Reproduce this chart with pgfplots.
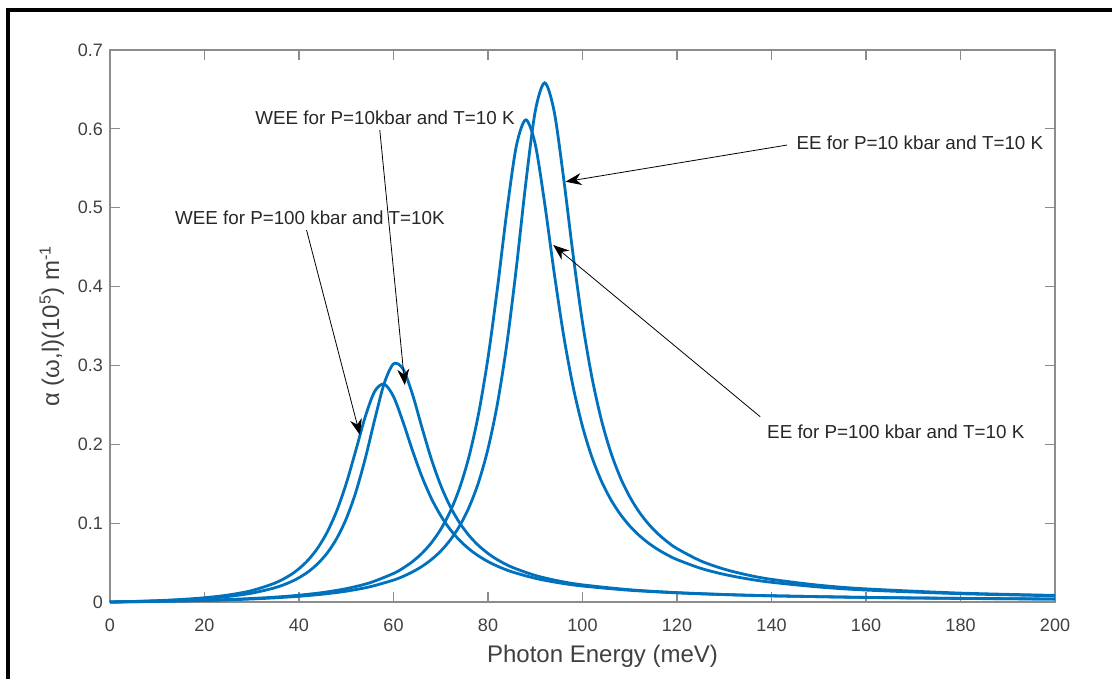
\documentclass[border=0pt]{standalone}
\usepackage{pgfplots}
\pgfplotsset{compat=1.18}
\usepackage{fontspec}
\setmainfont{Liberation Sans}
\usetikzlibrary{arrows.meta}
\definecolor{mblue}{HTML}{0072BD}
\definecolor{axgray}{HTML}{8C8C8C}
\definecolor{tickgray}{HTML}{404040}

% WEE, P=100 kbar
\pgfplotstableread{
x y
0 0
5 0.00070
10 0.00171
15 0.00318
20 0.00539
25 0.00884
30 0.01447
35 0.02421
38 0.03360
40 0.04225
42 0.05363
44 0.06879
46 0.08899
48 0.11579
50 0.15030
52 0.19172
54 0.23448
56 0.26688
58 0.27642
60 0.26053
62 0.22859
64 0.19238
66 0.15921
68 0.13154
70 0.10944
72 0.09195
74 0.07816
76 0.06719
78 0.05840
80 0.05125
82 0.04539
85 0.03840
90 0.03007
95 0.02434
100 0.02025
110 0.01487
120 0.01158
130 0.00939
140 0.00785
160 0.00585
180 0.00462
200 0.00381
}\weeA
% WEE, P=10 kbar
\pgfplotstableread{
x y
0 0
5 0.00059
10 0.00141
15 0.00260
20 0.00435
25 0.00701
30 0.01122
35 0.01825
38 0.02484
40 0.03080
42 0.03855
44 0.04875
46 0.06236
48 0.08072
50 0.10556
52 0.13879
54 0.18140
56 0.23076
58 0.27662
60 0.30200
62 0.29570
64 0.26372
66 0.22172
68 0.18150
70 0.14779
72 0.12108
74 0.10031
76 0.08420
78 0.07159
80 0.06161
82 0.05361
85 0.04433
90 0.03366
95 0.02663
100 0.02174
110 0.01555
120 0.01188
130 0.00951
140 0.00787
160 0.00578
180 0.00452
200 0.00370
}\weeB
% EE, P=100 kbar
\pgfplotstableread{
x y
0 0
10 0.00083
20 0.00217
25 0.00315
30 0.00445
35 0.00620
40 0.00861
45 0.01200
50 0.01693
55 0.02438
60 0.03620
62 0.04287
64 0.05117
66 0.06162
68 0.07496
70 0.09220
72 0.11478
74 0.14475
76 0.18489
78 0.23869
80 0.30959
82 0.39816
84 0.49596
86 0.57837
88 0.61144
90 0.58045
92 0.50524
94 0.41775
96 0.33821
98 0.27330
100 0.22262
102 0.18354
104 0.15335
106 0.12982
108 0.11125
110 0.09641
112 0.08441
114 0.07456
116 0.06641
118 0.05958
120 0.05381
125 0.04275
130 0.03498
135 0.02929
140 0.02500
150 0.01903
160 0.01515
180 0.01052
200 0.00792
}\eeA
% EE, P=10 kbar
\pgfplotstableread{
x y
0 0
10 0.00073
20 0.00190
25 0.00274
30 0.00384
35 0.00529
40 0.00724
45 0.00993
50 0.01373
55 0.01930
60 0.02777
62 0.03242
64 0.03807
66 0.04503
68 0.05369
70 0.06459
72 0.07853
74 0.09656
76 0.12026
78 0.15182
80 0.19429
82 0.25158
84 0.32772
86 0.42388
88 0.53125
90 0.62240
92 0.65834
94 0.62219
96 0.53752
98 0.44080
100 0.35434
102 0.28467
104 0.23080
106 0.18960
108 0.15796
110 0.13339
112 0.11409
114 0.09872
116 0.08629
118 0.07613
120 0.06773
125 0.05215
130 0.04162
135 0.03416
140 0.02869
150 0.02130
160 0.01665
180 0.01128
200 0.00836
}\eeB

\begin{document}
\begin{tikzpicture}
\useasboundingbox (-55pt,-38.5pt) rectangle (501pt,301pt);
\fill[black] (-52pt,-38.5pt) rectangle (-50pt,297pt);
\fill[black] (-52pt,295pt) rectangle (501pt,297pt);
\begin{axis}[
    at={(0,0)}, anchor=south west,
    scale only axis, width=472.5pt, height=276pt,
    xmin=0, xmax=200, ymin=0, ymax=0.7,
    xtick={0,20,...,200},
    ytick={0,0.1,0.2,0.3,0.4,0.5,0.6,0.7},
    scaled y ticks=false,
    yticklabel style={/pgf/number format/fixed, /pgf/number format/precision=1},
    xticklabel style={yshift=-5pt},
    /pgf/number format/assume math mode=true,
    tick align=inside, major tick length=5pt,
    axis line style={axgray, line width=0.6pt},
    tick style={axgray, line width=0.6pt},
    ticklabel style={font=\fontsize{9}{10}\selectfont, text=tickgray},
    label style={font=\fontsize{12}{14}\selectfont, text=tickgray},
    xlabel style={xshift=10pt},
    xlabel={Photon Energy (meV)},
    ylabel={α (ω,l)(10\textsuperscript{5}) m\textsuperscript{-1}},
    clip=false]
  \addplot[mblue, line width=1.4pt, smooth] table {\weeA};
  \addplot[mblue, line width=1.4pt, smooth] table {\weeB};
  \addplot[mblue, line width=1.4pt, smooth] table {\eeA};
  \addplot[mblue, line width=1.4pt, smooth] table {\eeB};

  \begin{scope}[font=\fontsize{9.4}{11}\selectfont, text=black!85]
  \node at (axis cs:58.2,0.6137) {WEE for P=10kbar and T=10 K};
  \node at (axis cs:42.3,0.487) {WEE for P=100 kbar and T=10K};
  \node at (axis cs:171.4,0.582) {EE for P=10 kbar and T=10 K};
  \node at (axis cs:166.3,0.2156) {EE for P=100 kbar and T=10 K};
  \end{scope}
  \begin{scope}[line width=0.4pt, -{Stealth[length=8pt,width=6pt]}]
  \draw (axis cs:57.1,0.5985) -- (axis cs:62.4,0.275);
  \draw (axis cs:41.6,0.4716) -- (axis cs:52.9,0.2118);
  \draw (axis cs:143.3,0.5795) -- (axis cs:96.4,0.533);
  \draw (axis cs:137.6,0.235) -- (axis cs:93.8,0.4527);
  \end{scope}
\end{axis}
\end{tikzpicture}
\end{document}
